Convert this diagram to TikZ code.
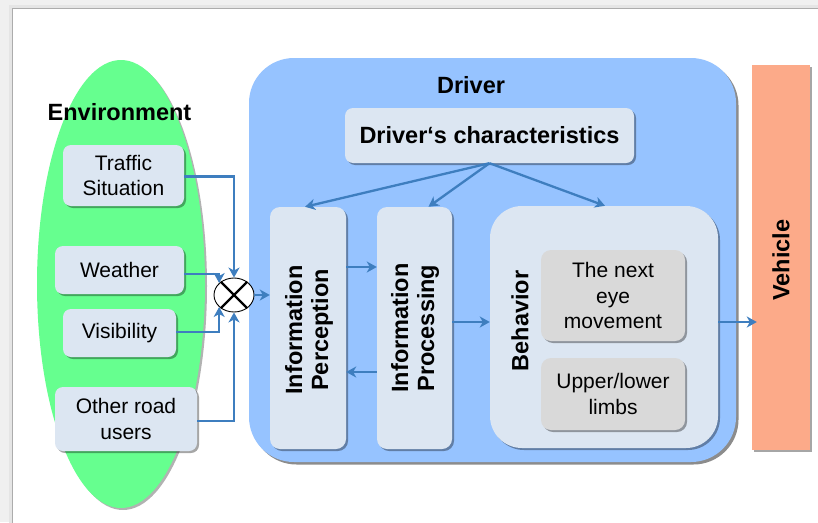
\documentclass[tikz,border=0pt]{standalone}
\usepackage{fontspec}
\setmainfont{Liberation Sans}
\usetikzlibrary{shapes.geometric,shadows,arrows.meta}
\definecolor{envgreen}{RGB}{102,255,143}
\definecolor{drvblue}{RGB}{150,195,255}
\definecolor{boxblue}{RGB}{220,230,242}
\definecolor{boxgray}{RGB}{217,217,217}
\definecolor{vehcol}{RGB}{252,170,137}
\definecolor{arrowblue}{RGB}{62,126,191}
\tikzset{
  shad/.style={drop shadow={shadow xshift=2pt,shadow yshift=-2pt,opacity=0.35,fill=black}},
  bx/.style={rounded corners=8pt, fill=boxblue, inner sep=0pt, shad},
  gbx/.style={rounded corners=10pt, fill=boxgray, inner sep=0pt, shad},
  reg/.style={font=\fontsize{21}{25.5}\selectfont, align=center, inner sep=0pt},
  bld/.style={font=\fontsize{23.5}{26}\selectfont\bfseries, align=center, inner sep=0pt},
  arr/.style={draw=arrowblue, line width=2.3pt, -{Stealth[length=10pt,width=11pt,inset=3pt]}},
  ln/.style={draw=arrowblue, line width=2.3pt}
}
\begin{document}
\begin{tikzpicture}[x=1pt,y=-1pt]
\useasboundingbox (0,0) rectangle (818,522);
% page background
\fill[gray!12] (0,0) rectangle (818,522);
\fill[gray!20] (9,5) rectangle (830,530);
\fill[white,draw=gray!65,line width=0.8pt] (12.5,8.5) rectangle (830,530);

% environment
\node[ellipse, fill=envgreen, minimum width=168pt, minimum height=448pt, inner sep=0pt,
  drop shadow={shadow xshift=2pt,shadow yshift=-2pt,opacity=0.3,fill=black}] (env) at (121,284) {};
\node[bld] (envlab) at (119.5,112) {Environment};
\node[bx, reg, minimum width=121pt, minimum height=61pt] (traffic) at (123.5,175.5) {Traffic\\Situation};
\node[bx, reg, minimum width=129pt, minimum height=48pt] (weather) at (119.5,270) {Weather};
\node[bx, reg, minimum width=113pt, minimum height=48pt] (visib) at (119.5,333) {Visibility};
\node[bx, reg, minimum width=142pt, minimum height=64pt] (other) at (126,419) {Other road\\users};

% driver
\node[fill=drvblue, rounded corners=45pt, minimum width=487pt, minimum height=404pt, inner sep=0pt,
  drop shadow={shadow xshift=2.5pt,shadow yshift=-2.5pt,opacity=0.45,fill=black}] (driver) at (492.5,260) {};
\node[bld] (drvlab) at (471,85) {Driver};
\node[bx, bld, minimum width=289pt, minimum height=55pt] (dc) at (489.5,135.5) {Driver‘s characteristics};
\node[bx, rounded corners=10pt, minimum width=76pt, minimum height=242pt] (perc) at (308,328) {};
\node[bld, rotate=90] (perclab) at (309,330) {Information\\Perception};
\node[bx, rounded corners=10pt, minimum width=75pt, minimum height=242pt] (proc) at (414.5,328) {};
\node[bld, rotate=90] (proclab) at (415,328) {Information\\Processing};
\node[bx, rounded corners=32pt, minimum width=228pt, minimum height=242pt] (beh) at (604,327) {};
\node[bld, rotate=90] (behlab) at (520,321) {Behavior};
\node[gbx, reg, minimum width=144pt, minimum height=91pt] (eye) at (613,295.5) {The next\\eye\\movement};
\node[gbx, reg, minimum width=144pt, minimum height=72pt] (limbs) at (613,394) {Upper/lower\\limbs};

% vehicle
\node[fill=vehcol, minimum width=58pt, minimum height=385pt, inner sep=0pt, shad] (veh) at (781,257.5) {};
\node[bld, rotate=90] (vehlab) at (781,260) {Vehicle};

% summing junction
\node[ellipse, draw=black, fill=white, line width=0.9pt, minimum width=40pt, minimum height=34pt, inner sep=0pt] (j) at (234,295) {};
\draw[line width=2.4pt] (j.45) -- (j.225);
\draw[line width=2.4pt] (j.135) -- (j.315);

% connectors into junction
\draw[arr] ([yshift=-1pt]traffic.east) -| (j.north);
\draw[arr] ([yshift=-4pt]weather.east) -| (j.141);
\draw[arr] ([yshift=1pt]visib.east) -| (j.219);
\draw[arr] ([yshift=-2pt]other.east) -| (j.south);
\draw[arr] (j.east) -- (perc.west |- j.east);

% driver's characteristics
\draw[arr] (dc.south) -- ([xshift=-3pt]perc.north);
\draw[arr] (dc.south) -- ([xshift=14pt]proc.north);
\draw[arr] (dc.south) -- ([xshift=1pt]beh.north);

% internal
\coordinate (pp1) at (0,267);
\coordinate (pp2) at (0,372);
\coordinate (pb) at (0,322);
\draw[arr] (perc.east |- pp1) -- (proc.west |- pp1);
\draw[arr] (proc.west |- pp2) -- (perc.east |- pp2);
\draw[arr] (proc.east |- pb) -- (beh.west |- pb);
\draw[arr] (beh.east |- pb) -- ([xshift=5pt]veh.west |- pb);
\end{tikzpicture}
\end{document}
